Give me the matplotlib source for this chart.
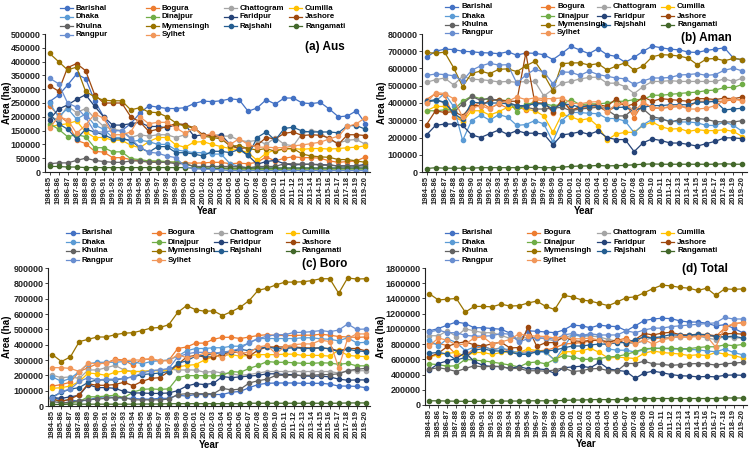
import numpy as np
import matplotlib
matplotlib.use('Agg')
import matplotlib.pyplot as plt
from matplotlib.lines import Line2D

plt.rcParams['font.family'] = ['Liberation Sans', 'DejaVu Sans']
plt.rcParams['font.weight'] = 'bold'

years = [f'{y}-{str(y + 1)[-2:]}' for y in range(1984, 2020)]
regions = ['Barishal', 'Bogura', 'Chattogram', 'Cumilla', 'Dhaka', 'Dinajpur', 'Faridpur',
           'Jashore', 'Khulna', 'Mymensingh', 'Rajshahi', 'Rangamati', 'Rangpur', 'Sylhet']
colors = ['#4472C4', '#ED7D31', '#A5A5A5', '#FFC000', '#5B9BD5', '#70AD47', '#264478',
          '#9E480E', '#636363', '#997300', '#255E91', '#43682B', '#698ED0', '#F1975A']

# area in thousand ha
aus = {
    'Barishal': [255, 278, 315, 355, 338, 258, 200, 150, 150, 175, 213, 240, 235, 230, 230, 233, 248, 257, 255, 258, 265, 262, 220, 232, 262, 246, 268, 268, 250, 248, 252, 228, 200, 203, 222, 175],
    'Bogura': [240, 205, 180, 115, 103, 75, 72, 52, 52, 45, 40, 38, 38, 36, 35, 33, 32, 33, 35, 35, 30, 32, 30, 35, 55, 40, 50, 55, 52, 52, 50, 40, 35, 38, 40, 55],
    'Chattogram': [200, 190, 240, 215, 230, 195, 165, 155, 150, 125, 135, 130, 135, 135, 125, 135, 160, 135, 135, 130, 130, 115, 110, 115, 100, 125, 100, 95, 140, 150, 145, 115, 105, 115, 118, 100],
    'Cumilla': [165, 170, 175, 185, 145, 125, 125, 115, 115, 97, 88, 110, 125, 125, 98, 90, 108, 110, 100, 92, 85, 80, 70, 42, 68, 80, 82, 85, 82, 85, 85, 83, 85, 88, 90, 95],
    'Dhaka': [250, 200, 230, 192, 210, 170, 155, 125, 125, 110, 115, 110, 100, 100, 80, 75, 70, 70, 65, 65, 30, 20, 15, 15, 15, 15, 15, 15, 15, 15, 15, 15, 15, 15, 15, 15],
    'Dinajpur': [175, 155, 128, 135, 128, 88, 88, 73, 73, 48, 45, 40, 40, 38, 35, 30, 20, 15, 12, 12, 10, 10, 10, 10, 10, 10, 8, 8, 8, 8, 8, 8, 8, 8, 8, 8],
    'Faridpur': [190, 228, 243, 263, 280, 238, 200, 170, 170, 175, 180, 165, 165, 160, 172, 172, 130, 135, 130, 135, 100, 85, 60, 28, 38, 42, 30, 25, 28, 28, 27, 25, 22, 22, 22, 28],
    'Jashore': [313, 293, 378, 393, 367, 280, 250, 250, 250, 200, 182, 147, 155, 165, 175, 172, 160, 135, 130, 125, 95, 85, 88, 97, 125, 120, 140, 145, 132, 135, 133, 123, 100, 135, 135, 132],
    'Khulna': [30, 33, 33, 42, 50, 42, 38, 35, 35, 40, 40, 35, 35, 35, 30, 30, 20, 20, 20, 20, 20, 20, 15, 20, 20, 20, 30, 30, 28, 28, 25, 25, 22, 22, 22, 22],
    'Mymensingh': [430, 400, 370, 380, 292, 272, 260, 258, 258, 225, 233, 217, 215, 200, 178, 165, 160, 130, 125, 120, 95, 95, 85, 80, 85, 75, 85, 85, 65, 58, 55, 53, 45, 45, 40, 35],
    'Rajshahi': [210, 175, 155, 120, 155, 145, 135, 120, 120, 115, 88, 72, 92, 92, 70, 70, 65, 58, 75, 75, 70, 82, 60, 125, 145, 115, 158, 162, 148, 145, 145, 145, 142, 168, 168, 155],
    'Rangamati': [20, 20, 18, 18, 16, 16, 16, 16, 16, 16, 16, 16, 16, 16, 16, 16, 14, 14, 14, 14, 14, 14, 14, 14, 14, 14, 14, 14, 14, 14, 14, 14, 14, 14, 14, 14],
    'Rangpur': [340, 320, 250, 235, 198, 145, 145, 150, 150, 120, 90, 72, 68, 58, 52, 20, 12, 10, 10, 8, 5, 5, 5, 5, 5, 5, 5, 5, 5, 5, 5, 5, 5, 5, 5, 5],
    'Sylhet': [160, 200, 190, 140, 170, 210, 195, 135, 135, 145, 200, 175, 180, 180, 160, 140, 160, 130, 140, 125, 100, 120, 100, 90, 90, 88, 88, 95, 98, 103, 108, 120, 130, 165, 175, 197],
}

aman = {
    'Barishal': [665, 700, 712, 710, 700, 697, 692, 690, 686, 697, 677, 690, 688, 680, 652, 688, 728, 707, 686, 715, 680, 670, 636, 665, 700, 730, 720, 712, 708, 695, 693, 705, 712, 720, 660, 650],
    'Bogura': [420, 455, 445, 320, 295, 380, 405, 370, 395, 370, 380, 360, 420, 415, 340, 420, 360, 370, 375, 380, 350, 380, 400, 315, 400, 370, 370, 375, 380, 375, 410, 410, 410, 410, 420, 420],
    'Chattogram': [520, 535, 545, 505, 555, 538, 535, 530, 522, 525, 520, 525, 525, 440, 480, 515, 525, 540, 548, 550, 515, 515, 495, 455, 495, 525, 525, 530, 525, 525, 525, 525, 525, 540, 525, 545],
    'Cumilla': [355, 380, 380, 345, 290, 355, 355, 330, 350, 375, 375, 365, 355, 325, 230, 335, 320, 300, 310, 265, 185, 220, 230, 230, 270, 290, 262, 248, 252, 235, 245, 240, 240, 245, 235, 205],
    'Dhaka': [410, 410, 455, 380, 183, 298, 330, 300, 333, 318, 270, 275, 298, 278, 175, 298, 345, 345, 340, 338, 310, 310, 295, 228, 275, 305, 305, 295, 290, 290, 285, 270, 270, 290, 270, 235],
    'Dinajpur': [355, 355, 360, 360, 410, 440, 425, 420, 415, 415, 350, 395, 400, 395, 385, 390, 420, 390, 395, 395, 400, 410, 410, 420, 420, 445, 445, 450, 455, 460, 463, 472, 475, 490, 490, 508],
    'Faridpur': [215, 270, 278, 278, 270, 215, 200, 222, 243, 218, 240, 225, 225, 220, 158, 215, 222, 233, 218, 238, 200, 188, 188, 118, 170, 192, 182, 168, 168, 160, 150, 165, 178, 198, 198, 193],
    'Jashore': [275, 355, 345, 350, 325, 385, 385, 415, 420, 410, 410, 690, 400, 400, 350, 415, 355, 380, 385, 390, 380, 425, 380, 395, 435, 410, 425, 420, 415, 410, 425, 425, 420, 428, 425, 435],
    'Khulna': [400, 420, 400, 345, 395, 438, 415, 430, 410, 405, 385, 375, 365, 365, 370, 375, 355, 365, 370, 375, 360, 325, 325, 370, 365, 320, 310, 290, 303, 305, 310, 305, 292, 290, 290, 298],
    'Mymensingh': [693, 688, 695, 605, 495, 572, 585, 570, 595, 598, 582, 615, 642, 565, 472, 628, 632, 633, 620, 628, 592, 614, 633, 590, 615, 668, 680, 678, 672, 660, 622, 655, 658, 645, 658, 652],
    'Rajshahi': [412, 418, 405, 340, 305, 405, 400, 400, 400, 395, 385, 385, 395, 395, 365, 395, 390, 375, 385, 385, 365, 375, 375, 355, 375, 385, 385, 390, 390, 390, 405, 405, 410, 360, 365, 370],
    'Rangamati': [20, 25, 22, 22, 22, 22, 25, 25, 25, 25, 25, 27, 27, 25, 25, 28, 32, 35, 35, 38, 35, 37, 38, 42, 45, 47, 45, 45, 45, 45, 45, 45, 45, 48, 45, 45],
    'Rangpur': [560, 568, 565, 558, 528, 590, 615, 630, 620, 622, 515, 562, 595, 580, 512, 580, 578, 560, 585, 565, 555, 545, 540, 508, 528, 545, 545, 548, 562, 565, 570, 560, 565, 590, 602, 585],
    'Sylhet': [400, 460, 455, 425, 318, 370, 385, 365, 400, 410, 435, 420, 430, 425, 425, 430, 400, 395, 405, 408, 345, 395, 400, 350, 405, 375, 370, 380, 385, 365, 365, 370, 385, 415, 425, 410],
}

boro = {
    'Barishal': [60, 35, 40, 30, 40, 55, 60, 55, 50, 50, 45, 45, 50, 50, 70, 65, 75, 75, 75, 75, 90, 95, 120, 140, 148, 150, 150, 150, 148, 148, 148, 143, 130, 130, 128, 120],
    'Bogura': [130, 140, 155, 225, 250, 275, 280, 305, 300, 265, 305, 305, 295, 298, 375, 385, 410, 410, 435, 448, 448, 440, 450, 460, 465, 460, 460, 460, 462, 462, 468, 462, 453, 450, 448, 450],
    'Chattogram': [200, 185, 190, 180, 235, 235, 250, 265, 235, 225, 225, 230, 235, 240, 235, 235, 235, 220, 225, 215, 210, 200, 205, 215, 225, 225, 225, 225, 225, 225, 225, 225, 215, 230, 230, 230],
    'Cumilla': [115, 120, 130, 160, 215, 210, 200, 220, 228, 225, 225, 230, 230, 230, 255, 265, 270, 300, 320, 330, 335, 325, 330, 335, 335, 335, 338, 338, 330, 330, 330, 325, 365, 330, 325, 322],
    'Dhaka': [190, 160, 180, 225, 275, 285, 285, 285, 290, 290, 275, 290, 295, 300, 325, 360, 375, 375, 380, 380, 390, 390, 410, 440, 440, 440, 440, 440, 445, 445, 438, 435, 425, 445, 412, 415],
    'Dinajpur': [50, 20, 20, 30, 60, 60, 65, 70, 55, 90, 108, 112, 108, 112, 185, 198, 198, 198, 195, 200, 225, 220, 245, 265, 290, 285, 285, 282, 278, 278, 282, 280, 272, 278, 262, 262],
    'Faridpur': [55, 50, 60, 70, 140, 120, 120, 115, 95, 85, 85, 82, 82, 85, 100, 130, 145, 140, 148, 192, 185, 190, 195, 200, 210, 210, 205, 205, 195, 195, 195, 190, 175, 168, 170, 170],
    'Jashore': [45, 30, 45, 75, 145, 135, 135, 140, 155, 132, 160, 180, 185, 225, 270, 320, 330, 320, 320, 340, 350, 350, 325, 365, 385, 385, 385, 385, 380, 378, 378, 375, 360, 375, 375, 360],
    'Khulna': [30, 20, 25, 35, 40, 45, 50, 55, 55, 40, 40, 40, 40, 45, 75, 80, 80, 80, 80, 115, 105, 110, 150, 165, 175, 200, 200, 200, 200, 200, 205, 205, 210, 230, 240, 245],
    'Mymensingh': [335, 290, 320, 420, 435, 450, 450, 465, 475, 478, 492, 508, 512, 530, 610, 655, 628, 618, 620, 590, 615, 645, 688, 755, 768, 790, 808, 808, 810, 818, 830, 830, 735, 835, 828, 830],
    'Rajshahi': [60, 90, 110, 120, 155, 170, 170, 170, 180, 190, 205, 210, 215, 225, 278, 295, 325, 330, 340, 350, 355, 370, 360, 375, 385, 375, 375, 380, 375, 375, 380, 372, 355, 370, 360, 355],
    'Rangamati': [10, 10, 12, 12, 12, 12, 12, 12, 12, 12, 13, 13, 13, 15, 15, 15, 15, 15, 15, 15, 15, 15, 18, 18, 18, 18, 18, 18, 18, 18, 18, 18, 18, 20, 20, 20],
    'Rangpur': [50, 95, 110, 160, 185, 170, 175, 175, 180, 190, 215, 230, 235, 245, 320, 340, 350, 350, 345, 350, 360, 375, 415, 440, 455, 465, 465, 480, 480, 485, 492, 485, 495, 535, 500, 502],
    'Sylhet': [250, 250, 245, 225, 280, 275, 280, 300, 295, 300, 300, 310, 295, 295, 335, 315, 325, 345, 340, 310, 360, 345, 350, 385, 395, 340, 390, 400, 405, 405, 430, 420, 250, 440, 470, 470],
}

total = {
    'Barishal': [975, 1005, 1050, 1090, 1070, 1015, 1015, 1005, 995, 945, 840, 975, 968, 960, 950, 985, 1050, 1040, 1015, 1050, 1035, 1030, 975, 1040, 1110, 1130, 1140, 1135, 1105, 1090, 1090, 1075, 1040, 1055, 1010, 950],
    'Bogura': [800, 810, 780, 660, 650, 740, 770, 730, 750, 700, 690, 700, 710, 720, 750, 800, 810, 820, 840, 860, 830, 850, 880, 810, 920, 870, 880, 890, 895, 890, 920, 915, 900, 1010, 1065, 1085],
    'Chattogram': [910, 910, 975, 900, 1000, 975, 950, 950, 915, 875, 880, 885, 885, 870, 840, 880, 920, 905, 905, 895, 860, 840, 810, 810, 840, 895, 880, 880, 900, 905, 905, 880, 860, 900, 880, 880],
    'Cumilla': [630, 660, 680, 690, 640, 690, 690, 665, 690, 700, 690, 735, 715, 700, 590, 700, 700, 710, 745, 690, 615, 630, 620, 610, 680, 710, 690, 680, 670, 650, 660, 650, 690, 670, 650, 620],
    'Dhaka': [850, 775, 870, 820, 715, 760, 780, 720, 750, 720, 680, 680, 700, 690, 590, 760, 930, 900, 925, 925, 735, 720, 720, 695, 725, 745, 745, 735, 735, 730, 725, 710, 700, 735, 690, 660],
    'Dinajpur': [540, 530, 510, 515, 600, 590, 580, 565, 545, 525, 500, 555, 565, 540, 600, 650, 635, 600, 600, 610, 630, 640, 665, 700, 740, 745, 745, 745, 740, 740, 755, 765, 765, 790, 780, 795],
    'Faridpur': [460, 545, 580, 610, 690, 570, 520, 505, 505, 480, 505, 475, 475, 465, 415, 490, 500, 510, 490, 560, 475, 455, 440, 350, 420, 445, 425, 400, 385, 380, 370, 375, 370, 390, 395, 390],
    'Jashore': [635, 680, 770, 810, 830, 790, 775, 805, 825, 750, 755, 1020, 770, 820, 820, 900, 845, 835, 850, 850, 820, 860, 800, 860, 940, 920, 945, 955, 925, 920, 930, 925, 910, 935, 940, 930],
    'Khulna': [470, 490, 470, 440, 480, 515, 500, 510, 505, 480, 480, 450, 450, 445, 460, 490, 440, 450, 475, 480, 450, 450, 545, 545, 575, 540, 535, 520, 530, 540, 545, 540, 525, 540, 550, 560],
    'Mymensingh': [1460, 1380, 1390, 1400, 1220, 1295, 1295, 1290, 1325, 1300, 1305, 1340, 1365, 1295, 1255, 1440, 1420, 1380, 1365, 1335, 1305, 1355, 1410, 1420, 1475, 1530, 1575, 1565, 1545, 1535, 1505, 1535, 1440, 1525, 1520, 1525],
    'Rajshahi': [680, 690, 670, 590, 625, 720, 740, 710, 710, 695, 665, 665, 700, 710, 720, 750, 775, 775, 790, 800, 800, 820, 820, 860, 890, 880, 900, 925, 915, 915, 930, 920, 900, 895, 905, 880],
    'Rangamati': [55, 55, 52, 50, 48, 48, 50, 50, 52, 52, 52, 55, 55, 55, 55, 60, 65, 65, 70, 72, 70, 70, 75, 80, 85, 85, 85, 85, 85, 85, 85, 85, 85, 92, 92, 92],
    'Rangpur': [960, 985, 950, 950, 915, 905, 905, 910, 940, 930, 830, 870, 880, 880, 865, 920, 940, 915, 935, 920, 920, 920, 975, 950, 985, 1010, 1010, 1030, 1040, 1050, 1060, 1070, 1080, 1150, 1130, 1130],
    'Sylhet': [780, 880, 850, 790, 800, 880, 895, 800, 830, 860, 935, 910, 905, 900, 880, 890, 870, 870, 880, 850, 800, 840, 860, 800, 860, 800, 855, 880, 905, 890, 900, 905, 760, 1020, 1070, 1080],
}

W, H = 750, 451
fig = plt.figure(figsize=(W / 100, H / 100), dpi=100)


def px_axes(left, top, right, bottom):
    return fig.add_axes([left / W, 1 - bottom / H, (right - left) / W, (bottom - top) / H])


def fx(px):
    return px / W


def fy(py):
    return 1 - py / H


# data, title, ymax, step, axes box (px), title pos (px), y-label x (px),
# legend column text x (px), legend row y (px)
panels = [
    (aus, '(a) Aus', 500000, 50000, (45, 34, 370, 172), (345, 47), 7,
     (76, 162, 240, 305), (8, 17, 26, 35)),
    (aman, '(b) Aman', 800000, 100000, (422, 34, 747, 172), (732, 38), 382,
     (461, 557, 613, 677), (7, 16, 25, 33)),
    (boro, '(c) Boro', 900000, 100000, (48, 268, 370, 406), (347, 264), 7,
     (82, 168, 230, 302), (233, 242, 251, 260)),
    (total, '(d) Total', 1800000, 200000, (425, 268, 747, 405), (728, 269), 381,
     (461, 543, 613, 677), (233, 242, 251, 260)),
]

x = np.arange(len(years))
for data, title, ymax, step, box, tpos, ylx, lcols, lrows in panels:
    ax = px_axes(*box)
    for name, c in zip(regions, colors):
        vals = np.array(data[name]) * 1000
        ax.plot(x, vals, color=c, lw=0.9, marker='o', ms=3, label=name)
    ax.set_xlim(-0.5, len(years) - 0.5)
    ax.set_ylim(0, ymax)
    ticks = np.arange(0, ymax + 1, step)
    ax.set_yticks(ticks)
    ax.set_yticklabels([f'{v:d}' for v in ticks], fontsize=6.5, fontweight='bold')
    ax.set_xticks(x)
    ax.set_xticklabels(years, rotation=90, fontsize=5.5, fontweight='bold')
    ax.tick_params(axis='both', length=2, width=0.6, pad=1, colors='#222222')
    for s in ['top', 'right']:
        ax.spines[s].set_visible(False)
    for s in ['left', 'bottom']:
        ax.spines[s].set_color('#222222')
        ax.spines[s].set_linewidth(0.8)
    ax.set_xlabel('Year', fontsize=7, fontweight='bold', labelpad=1)
    ax.set_ylabel('Area (ha)', fontsize=7, fontweight='bold', va='center')
    ax.yaxis.set_label_coords(fx(ylx), fy((box[1] + box[3]) / 2), transform=fig.transFigure)
    fig.text(fx(tpos[0]), fy(tpos[1]), title, ha='right', va='center', fontsize=8.5, fontweight='bold')

    # legend, filled row by row like the original
    for i, (name, c) in enumerate(zip(regions, colors)):
        tx = lcols[i % 4]
        ty = lrows[i // 4]
        fig.add_artist(Line2D([fx(tx - 16), fx(tx - 3)], [fy(ty), fy(ty)], color=c, lw=0.9,
                              transform=fig.transFigure))
        fig.add_artist(Line2D([fx(tx - 9.5)], [fy(ty)], color=c, marker='o', ms=3,
                              transform=fig.transFigure))
        fig.text(fx(tx), fy(ty), name, ha='left', va='center', fontsize=5.7, fontweight='bold')

fig.savefig('out.png', dpi=100)
